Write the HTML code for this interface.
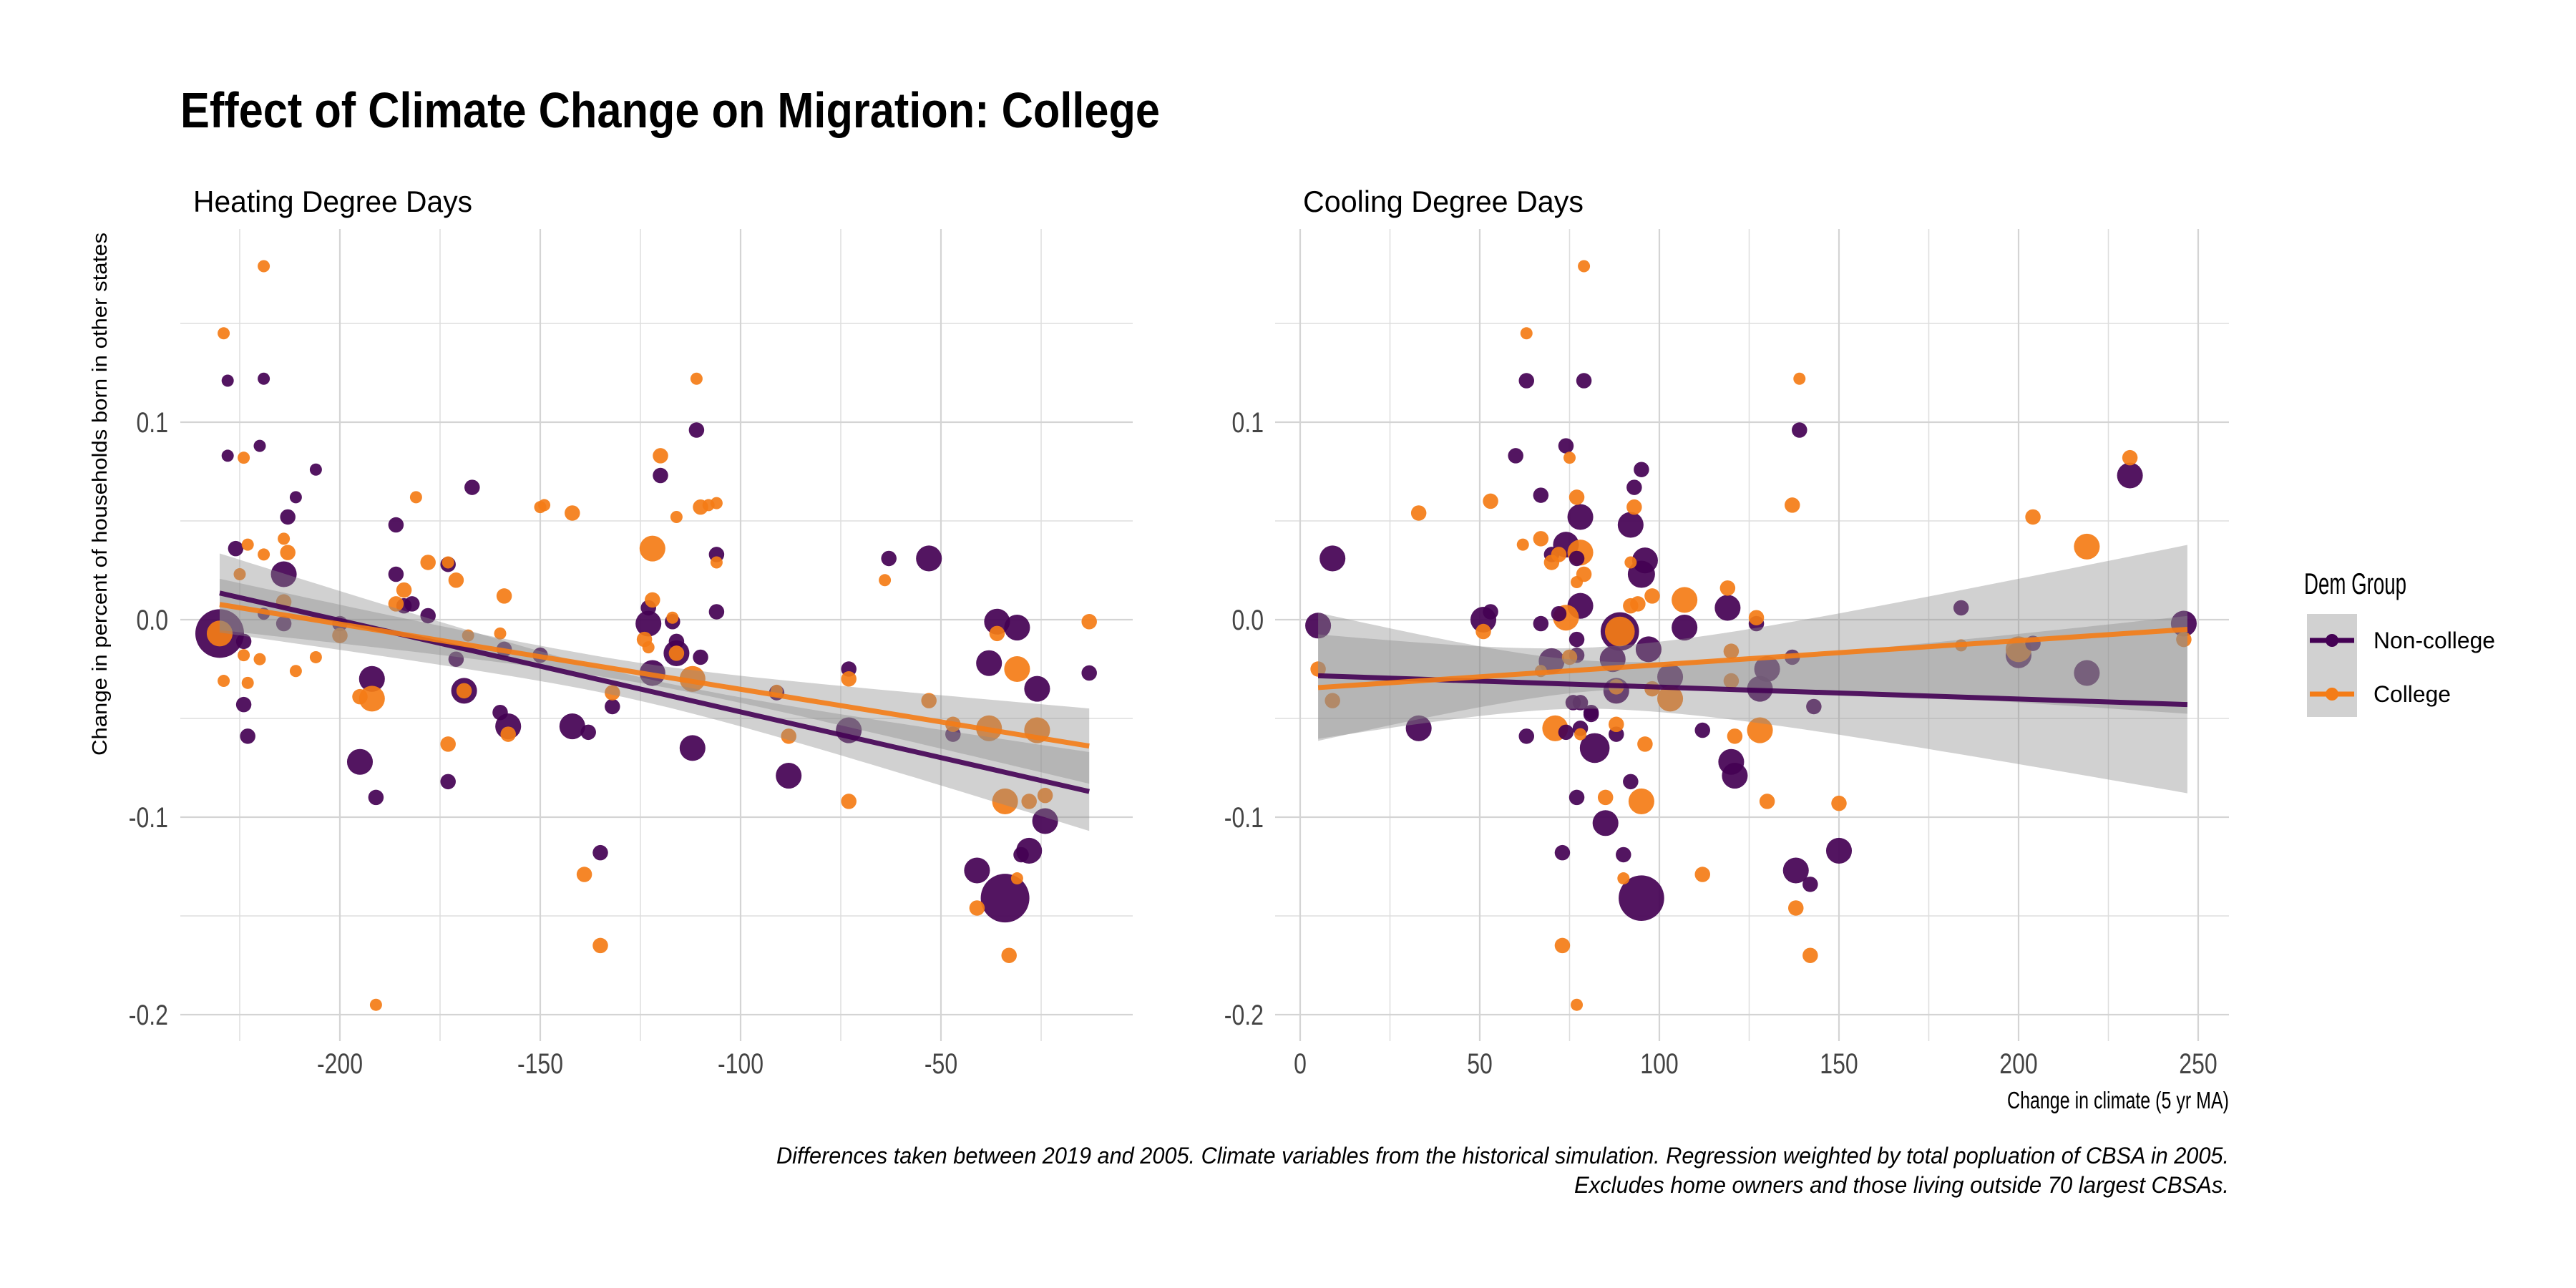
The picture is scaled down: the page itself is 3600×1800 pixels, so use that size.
<!DOCTYPE html>
<html><head><meta charset="utf-8"><title>Effect of Climate Change on Migration: College</title>
<style>html,body{margin:0;padding:0;background:#fff}svg{display:block}text{font-family:"Liberation Sans",sans-serif}</style>
</head><body>
<svg id="chart" width="3600" height="1800" viewBox="0 0 3600 1800" xmlns="http://www.w3.org/2000/svg">
<rect width="3600" height="1800" fill="#fff"/>
<text x="252" y="178" font-size="70" font-weight="bold" textLength="1369" lengthAdjust="spacingAndGlyphs">Effect of Climate Change on Migration: College</text>
<text x="270" y="296" font-size="42" textLength="390" lengthAdjust="spacingAndGlyphs">Heating Degree Days</text>
<text x="1821" y="296" font-size="42" textLength="392" lengthAdjust="spacingAndGlyphs">Cooling Degree Days</text>
<text transform="translate(149,1056) rotate(-90)" x="0" y="0" font-size="29" textLength="731" lengthAdjust="spacingAndGlyphs">Change in percent of households born in other states</text>
<text x="3115" y="1549" font-size="33" text-anchor="end" textLength="310" lengthAdjust="spacingAndGlyphs">Change in climate (5 yr MA)</text>
<text x="3115" y="1626" font-size="32" font-style="italic" text-anchor="end" textLength="2030" lengthAdjust="spacingAndGlyphs">Differences taken between 2019 and 2005. Climate variables from the historical simulation. Regression weighted by total popluation of CBSA in 2005.</text>
<text x="3115" y="1667" font-size="32" font-style="italic" text-anchor="end" textLength="915" lengthAdjust="spacingAndGlyphs">Excludes home owners and those living outside 70 largest CBSAs.</text>
<g id="legend">
<text x="3220" y="830" font-size="42" textLength="143" lengthAdjust="spacingAndGlyphs">Dem Group</text>
<rect x="3224" y="858" width="70" height="144" fill="#8c8c8c" fill-opacity="0.4"/>
<g>
<line x1="3228" y1="895" x2="3290" y2="895" stroke="#440154" stroke-width="7"/>
<circle cx="3259" cy="895" r="9" fill="#440154"/>
<text x="3317" y="906" font-size="32" textLength="170" lengthAdjust="spacingAndGlyphs">Non-college</text>
</g>
<g>
<line x1="3228" y1="970" x2="3290" y2="970" stroke="#f47c16" stroke-width="7"/>
<circle cx="3259" cy="970" r="9" fill="#f47c16"/>
<text x="3317" y="981" font-size="32" textLength="108" lengthAdjust="spacingAndGlyphs">College</text>
</g>
</g>
<g id="p1"></g>
<g id="p2"></g>
</svg>
<script>
// ---------- data ----------
const hddNoncollegeX=[-228,-228,-219,-220,-206,-211,-213,-186,-167,-120,-111,-226,-214,-106,-63,-53,-230,-224,-219,-214,-224,-223,-200,-186,-173,-184,-182,-178,-171,-159,-150,-192,-169,-132,-160,-158,-142,-138,-195,-173,-191,-135,-123,-123,-117,-116,-116,-110,-106,-122,-112,-91,-88,-73,-73,-47,-38,-36,-31,-26,-13,-24,-28,-30,-41,-34];
const hddNoncollegeY=[0.121,0.083,0.122,0.088,0.076,0.062,0.052,0.048,0.067,0.073,0.096,0.036,0.023,0.033,0.031,0.031,-0.007,-0.011,0.003,-0.002,-0.043,-0.059,-0.002,0.023,0.028,0.007,0.008,0.002,-0.020,-0.015,-0.018,-0.030,-0.036,-0.044,-0.047,-0.054,-0.054,-0.057,-0.072,-0.082,-0.090,-0.118,0.006,-0.002,-0.001,-0.011,-0.017,-0.019,0.004,-0.027,-0.065,-0.037,-0.079,-0.025,-0.056,-0.058,-0.022,-0.001,-0.004,-0.035,-0.027,-0.102,-0.117,-0.119,-0.127,-0.141];
const hddNoncollegeW=[1,1,1,1,1,1,1.6,1.6,1.6,1.6,1.6,1.6,4.5,1.6,1.6,4.5,16,1.6,1,1.6,1.6,1.6,1.6,1.6,1.6,1.6,1.6,1.6,1.6,1.6,1.6,4.5,4.5,1.6,1.6,4.5,4.5,1.6,4.5,1.6,1.6,1.6,1.6,4.5,1.6,1.6,4.5,1.6,1.6,4.5,4.5,1.6,4.5,1.6,4.5,1.6,4.5,4.5,4.5,4.5,1.6,4.5,4.5,1.6,4.5,16];
const hddCollegeX=[-229,-219,-224,-181,-149,-120,-111,-108,-223,-219,-225,-214,-213,-214,-150,-142,-116,-110,-106,-122,-106,-64,-230,-224,-220,-206,-211,-229,-223,-200,-178,-173,-171,-184,-186,-159,-168,-160,-192,-195,-169,-132,-158,-173,-139,-135,-191,-122,-117,-124,-123,-116,-112,-91,-88,-73,-73,-53,-47,-38,-36,-31,-26,-13,-34,-28,-24,-31,-41,-33];
const hddCollegeY=[0.145,0.179,0.082,0.062,0.058,0.083,0.122,0.058,0.038,0.033,0.023,0.041,0.034,0.009,0.057,0.054,0.052,0.057,0.059,0.036,0.029,0.020,-0.007,-0.018,-0.020,-0.019,-0.026,-0.031,-0.032,-0.008,0.029,0.029,0.020,0.015,0.008,0.012,-0.008,-0.007,-0.040,-0.039,-0.036,-0.037,-0.058,-0.063,-0.129,-0.165,-0.195,0.010,0.001,-0.010,-0.014,-0.017,-0.030,-0.036,-0.059,-0.030,-0.092,-0.041,-0.053,-0.055,-0.007,-0.025,-0.056,-0.001,-0.092,-0.092,-0.089,-0.131,-0.146,-0.170];
const hddCollegeW=[1,1,1,1,1,1.6,1,1,1,1,1,1,1.6,1.6,1,1.6,1,1.6,1,4.5,1,1,4.5,1,1,1,1,1,1,1.6,1.6,1,1.6,1.6,1.6,1.6,1,1,4.5,1.6,1.6,1.6,1.6,1.6,1.6,1.6,1,1.6,1,1.6,1,1.6,4.5,1,1.6,1.6,1.6,1.6,1.6,4.5,1.6,4.5,4.5,1.6,4.5,1.6,1.6,1,1.6,1.6];
const cddNoncollegeX=[63,79,139,60,74,95,93,231,67,78,92,74,70,77,96,95,9,5,51,53,67,72,78,77,89,107,119,127,184,246,70,77,87,88,97,103,130,128,137,143,200,204,219,76,78,81,33,63,74,78,81,88,82,112,120,121,92,77,85,73,90,150,138,142,95];
const cddNoncollegeY=[0.121,0.121,0.096,0.083,0.088,0.076,0.067,0.073,0.063,0.052,0.048,0.038,0.033,0.031,0.030,0.023,0.031,-0.003,0.000,0.004,-0.002,0.003,0.007,-0.010,-0.006,-0.004,0.006,-0.002,0.006,-0.002,-0.021,-0.018,-0.020,-0.036,-0.015,-0.029,-0.025,-0.035,-0.019,-0.044,-0.018,-0.012,-0.027,-0.042,-0.042,-0.047,-0.055,-0.059,-0.057,-0.055,-0.048,-0.058,-0.065,-0.056,-0.072,-0.079,-0.082,-0.090,-0.103,-0.118,-0.119,-0.117,-0.127,-0.134,-0.141];
const cddNoncollegeW=[1.6,1.6,1.6,1.6,1.6,1.6,1.6,4.5,1.6,4.5,4.5,4.5,1.6,1.6,4.5,5,4.5,4.5,4.5,1.6,1.6,1.6,4.5,1.6,10,4.5,4.5,1.6,1.6,4.5,4.5,1.6,4.5,4.5,4.5,4.5,4.5,4.5,1.6,1.6,4.5,1.6,4.5,1.6,1.6,1.6,4.5,1.6,1.6,1.6,1.6,1.6,6,1.6,4.5,4.5,1.6,1.6,4.5,1.6,1.6,4.5,4.5,1.6,14];
const cddCollegeX=[79,63,139,75,93,137,231,204,219,33,53,77,67,62,72,78,70,92,79,77,98,92,94,51,74,89,119,127,107,246,5,9,75,67,88,98,103,120,120,184,200,71,78,88,96,121,128,85,95,130,150,112,90,138,73,142,77];
const cddCollegeY=[0.179,0.145,0.122,0.082,0.057,0.058,0.082,0.052,0.037,0.054,0.060,0.062,0.041,0.038,0.033,0.034,0.029,0.029,0.023,0.019,0.012,0.007,0.008,-0.006,0.001,-0.006,0.016,0.001,0.010,-0.010,-0.025,-0.041,-0.019,-0.026,-0.034,-0.035,-0.040,-0.031,-0.016,-0.013,-0.015,-0.055,-0.058,-0.053,-0.063,-0.059,-0.056,-0.090,-0.092,-0.092,-0.093,-0.129,-0.131,-0.146,-0.165,-0.170,-0.195];
const cddCollegeW=[1,1,1,1,1.6,1.6,1.6,1.6,4.5,1.6,1.6,1.6,1.6,1,1.6,4.5,1.6,1,1.6,1,1.6,1.6,1.6,1.6,4.5,6,1.6,1.6,4.5,1.6,1.6,1.6,1.6,1,1.6,1.6,4.5,1.6,1.6,1,4.5,4.5,1,1.6,1.6,1.6,4.5,1.6,4.5,1.6,1.6,1.6,1,1.6,1.6,1.6,1];
// regression fits: [x0, y0, x1, y1]  and band: [xCenter, minHalfWidth, slopeLeft, slopeRight]
const hddNoncollegeFit=[-230,0.0135,-13,-0.087];
const hddCollegeFit=[-230,0.0077,-13,-0.064];
const hddNoncollegeBand=[-125,0.006,0.000182,0.00017];
const hddCollegeBand=[-130,0.005,0.00012,0.000157];
const cddNoncollegeFit=[5,-0.0284,247,-0.043];
const cddCollegeFit=[5,-0.0344,247,-0.0049];
const cddNoncollegeBand=[85,0.012,0.00037,0.000267];
const cddCollegeBand=[85,0.011,0.000308,0.000255];
const yTicks=[0.1,0.0,-0.1,-0.2];
const yTickLabels=["0.1","0.0","-0.1","-0.2"];
const yMinor=[0.15,0.05,-0.05,-0.15];
const hddTicks=[-200,-150,-100,-50];
const hddTickLabels=["-200","-150","-100","-50"];
const hddMinor=[-225,-175,-125,-75,-25];
const cddTicks=[0,50,100,150,200,250];
const cddTickLabels=["0","50","100","150","200","250"];
const cddMinor=[25,75,125,175,225];

const NS="http://www.w3.org/2000/svg";
const PURPLE="#440154", ORANGE="#f47c16";
const yS=v=>866-v*2760;
const panels=[
 {g:document.getElementById('p1'),x0:252,x1:1583,xS:v=>475+(v+200)*5.6,ticks:hddTicks,labels:hddTickLabels,minor:hddMinor,labelX:235,
  series:[[hddNoncollegeX,hddNoncollegeY,hddNoncollegeW,PURPLE,'noncollege'],[hddCollegeX,hddCollegeY,hddCollegeW,ORANGE,'college']],
  fits:[[hddNoncollegeFit,hddNoncollegeBand,PURPLE,'noncollege'],[hddCollegeFit,hddCollegeBand,ORANGE,'college']]},
 {g:document.getElementById('p2'),x0:1782,x1:3115,xS:v=>1817+v*5.02,ticks:cddTicks,labels:cddTickLabels,minor:cddMinor,labelX:1766,
  series:[[cddNoncollegeX,cddNoncollegeY,cddNoncollegeW,PURPLE,'noncollege'],[cddCollegeX,cddCollegeY,cddCollegeW,ORANGE,'college']],
  fits:[[cddNoncollegeFit,cddNoncollegeBand,PURPLE,'noncollege'],[cddCollegeFit,cddCollegeBand,ORANGE,'college']]}
];
function mk(tag,attrs,parent){const e=document.createElementNS(NS,tag);for(const k in attrs)e.setAttribute(k,attrs[k]);parent.appendChild(e);return e;}
const narrow=[];
panels.forEach((p,pi)=>{
  const top=320,bot=1455;
  yMinor.forEach(v=>{const l=mk('line',{x1:p.x0,x2:p.x1,y1:yS(v),y2:yS(v),stroke:'#dedede','stroke-width':1.5},p.g);
    
    });
  p.minor.forEach(v=>{const l=mk('line',{x1:p.xS(v),x2:p.xS(v),y1:top,y2:bot,stroke:'#dedede','stroke-width':1.5},p.g);
    
    });
  yTicks.forEach((v,i)=>{const l=mk('line',{x1:p.x0,x2:p.x1,y1:yS(v),y2:yS(v),stroke:'#d4d4d4','stroke-width':2.2},p.g);
    
    
    const t=mk('text',{x:p.labelX,y:yS(v)+14,'font-size':40,'text-anchor':'end',fill:'#444'},p.g);t.textContent=yTickLabels[i];
    
    narrow.push(t);});
  p.ticks.forEach((v,i)=>{const l=mk('line',{x1:p.xS(v),x2:p.xS(v),y1:top,y2:bot,stroke:'#d4d4d4','stroke-width':2.2},p.g);
    
    
    const t=mk('text',{x:p.xS(v),y:1500,'font-size':40,'text-anchor':'middle',fill:'#444'},p.g);t.textContent=p.labels[i];
    
    narrow.push(t);});
  // points
  const pts=[];
  p.series.forEach(s=>{for(let i=0;i<s[0].length;i++)pts.push([s[0][i],s[1][i],s[2][i],s[3],s[4]]);});
  pts.sort((a,b)=>b[2]-a[2]);
  pts.forEach(d=>{const c=mk('circle',{cx:p.xS(d[0]),cy:yS(d[1]),r:8.5*Math.sqrt(d[2]),fill:d[3],'fill-opacity':0.92},p.g);
    
    });
  // bands
  p.fits.forEach(f=>{const [fx0,fy0,fx1,fy1]=f[0],[xm,a,bl,br]=f[1];
    const up=[],lo=[];
    for(let k=0;k<=60;k++){const x=fx0+(fx1-fx0)*k/60;const y=fy0+(fy1-fy0)*(x-fx0)/(fx1-fx0);
      const b=x<xm?bl:br;const hw=Math.sqrt(a*a+b*b*(x-xm)*(x-xm));
      up.push(p.xS(x).toFixed(1)+','+yS(y+hw).toFixed(1));lo.unshift(p.xS(x).toFixed(1)+','+yS(y-hw).toFixed(1));}
    const pg=mk('polygon',{points:up.concat(lo).join(' '),fill:'#8c8c8c','fill-opacity':0.4},p.g);
    
    });
  p.fits.forEach(f=>{const [fx0,fy0,fx1,fy1]=f[0];
    const l=mk('line',{x1:p.xS(fx0),y1:yS(fy0),x2:p.xS(fx1),y2:yS(fy1),stroke:f[2],'stroke-width':7,'stroke-opacity':0.9},p.g);
    
    });
});
narrow.forEach(t=>{const w=t.getComputedTextLength();if(w>0){t.setAttribute('textLength',(w*0.8).toFixed(1));t.setAttribute('lengthAdjust','spacingAndGlyphs');}});
</script>
</body></html>
